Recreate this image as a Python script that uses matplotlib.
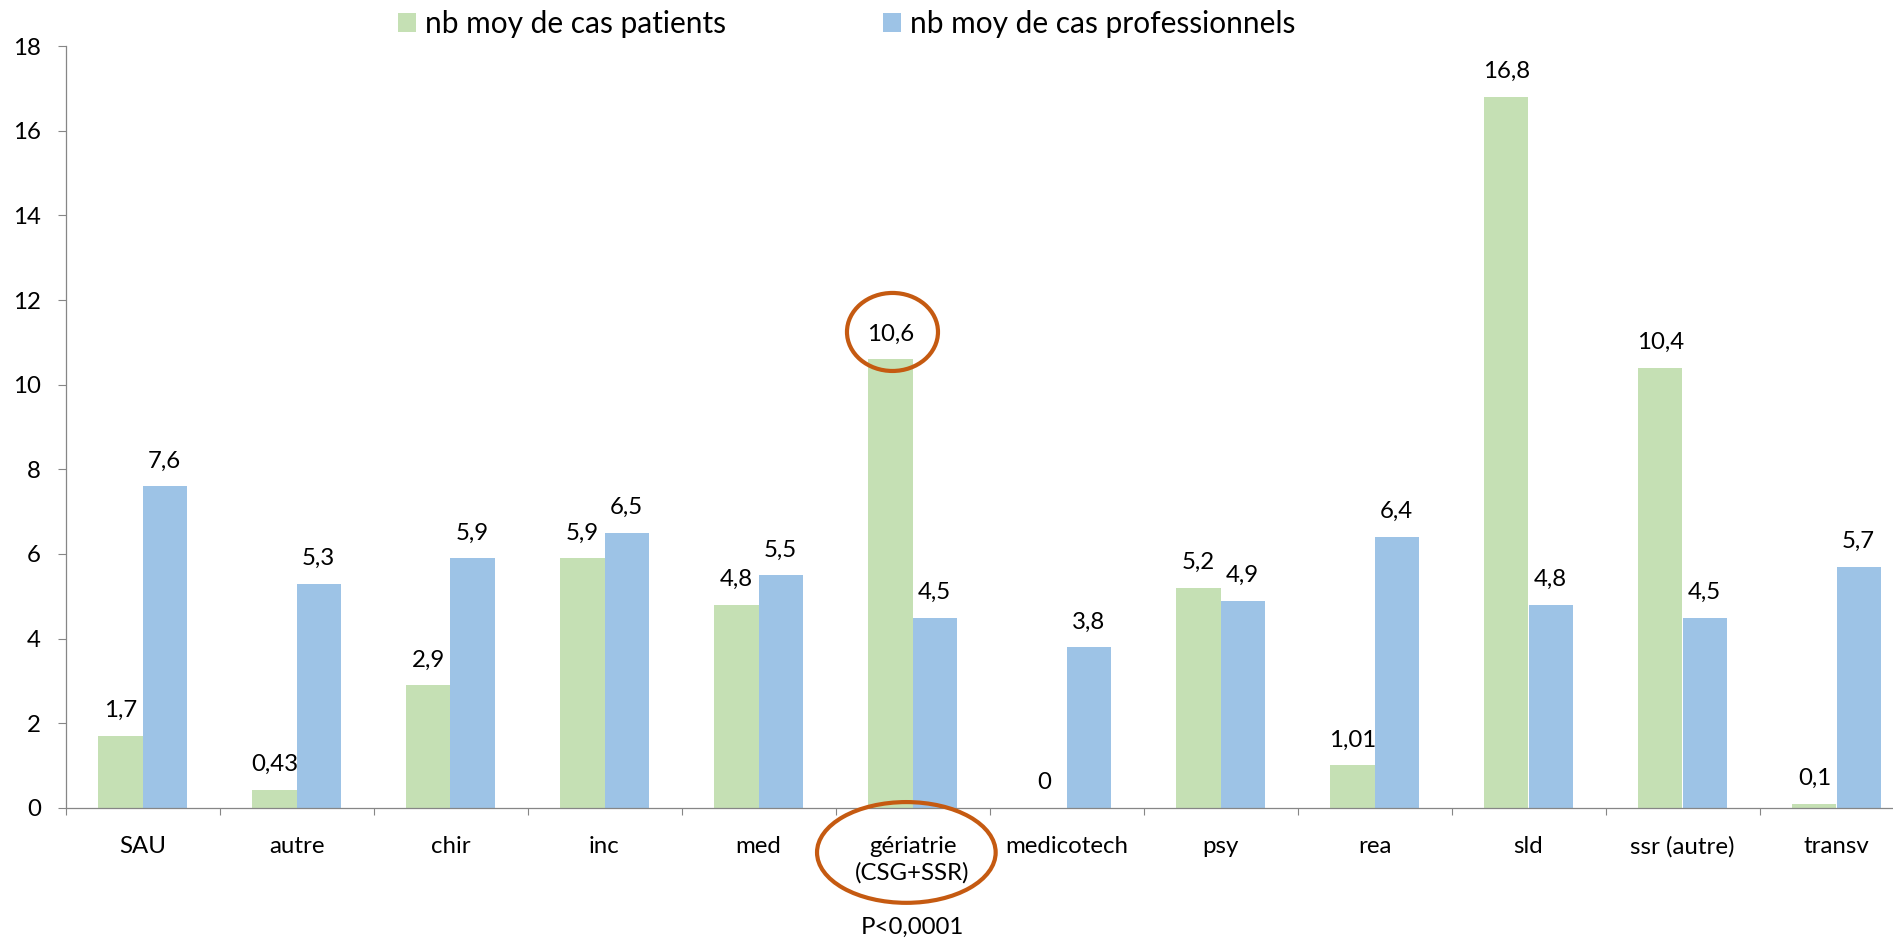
import matplotlib
matplotlib.use("Agg")
import matplotlib.pyplot as plt
from matplotlib.patches import Ellipse
import numpy as np

plt.rcParams['font.family'] = ['Lato', 'DejaVu Sans']

categories = ["SAU", "autre", "chir", "inc", "med", "gériatrie\n(CSG+SSR)",
              "medicotech", "psy", "rea", "sld", "ssr (autre)", "transv"]
patients = [1.7, 0.43, 2.9, 5.9, 4.8, 10.6, 0, 5.2, 1.01, 16.8, 10.4, 0.1]
professionnels = [7.6, 5.3, 5.9, 6.5, 5.5, 4.5, 3.8, 4.9, 6.4, 4.8, 4.5, 5.7]
series_names = ["nb moy de cas patients", "nb moy de cas professionnels"]
y_ticks = [0, 2, 4, 6, 8, 10, 12, 14, 16, 18]
p_text = "P<0,0001"

green = "#C5E0B4"
blue = "#9DC3E6"
orange = "#C55A11"
axis_grey = "#868686"

def fmt(v):
    return f"{v:g}".replace(".", ",")

W, H = 1893, 940
fig = plt.figure(figsize=(W / 100, H / 100), dpi=100)
left = 65.5 / W
width = 12 * 154 / W
bottom = 1 - 808 / H
top = 1 - 46 / H
ax = fig.add_axes([left, bottom, width, top - bottom])

x = np.arange(len(categories))
bw = 0.286
b1 = ax.bar(x - bw / 2, patients, bw, color=green, label=series_names[0])
b2 = ax.bar(x + bw / 2, professionnels, bw, color=blue, label=series_names[1])

fs = 17.3
for rects, vals in ((b1, patients), (b2, professionnels)):
    for r, v in zip(rects, vals):
        ax.annotate(fmt(v), (r.get_x() + r.get_width() / 2, v),
                    xytext=(0, 13.5), textcoords="offset points",
                    ha="center", va="baseline", fontsize=fs, color="black")

ax.set_xlim(-0.5, len(categories) - 0.5)
ax.set_ylim(0, 18)
ax.set_yticks(y_ticks)
ax.set_yticklabels([str(t) for t in y_ticks], fontsize=fs)
ax.set_xticks(x)
ax.set_xticklabels(categories, fontsize=fs, linespacing=1.3)
ax.set_xticks(np.arange(-0.5, len(categories) + 0.5, 1), minor=True)
ax.tick_params(axis="x", which="major", length=0, pad=20)
ax.tick_params(axis="x", which="minor", length=5, width=0.8, color=axis_grey, direction="out")
ax.tick_params(axis="y", length=5.8, width=0.8, color=axis_grey, pad=12)

for s in ("top", "right"):
    ax.spines[s].set_visible(False)
for s in ("left", "bottom"):
    ax.spines[s].set_color(axis_grey)
    ax.spines[s].set_linewidth(0.9)

# annotations: ellipses and p-value
e1 = Ellipse((4.870, 11.245), 0.591, 1.843, fill=False, edgecolor=orange,
             linewidth=3.0, clip_on=False, zorder=5)
ax.add_patch(e1)
e2 = Ellipse((4.96, -1.05), 1.16, 2.38, fill=False, edgecolor=orange,
             linewidth=3.0, clip_on=False, zorder=5)
ax.add_patch(e2)
ax.text(5.0, -2.81, p_text, ha="center", va="center", fontsize=fs, clip_on=False)

leg = fig.legend(handles=[b1, b2], labels=series_names, loc="center left",
                 bbox_to_anchor=(398 / W, 1 - 24 / H), ncol=2, frameon=False,
                 fontsize=21.5, handlelength=0.6, handleheight=0.6,
                 handletextpad=0.3, columnspacing=5.25, borderaxespad=0,
                 borderpad=0)

fig.savefig("out.png", dpi=100)
